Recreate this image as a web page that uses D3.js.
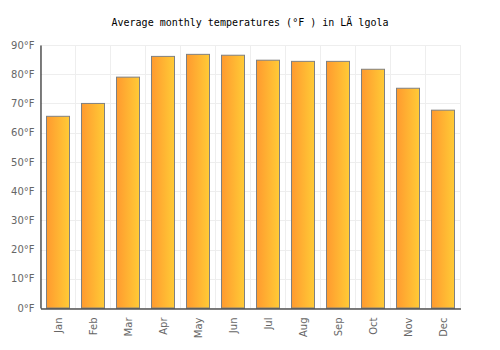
<!DOCTYPE html>
<html><head><meta charset="utf-8">
<script src="https://cdn.jsdelivr.net/npm/d3@7"></script>
<style>body{margin:0;background:#fff}</style>
</head><body>
<svg id="c" width="500" height="350"></svg>
<script>
const titleText = "Average monthly temperatures (°F ) in LÄ lgola";
const months = ["Jan","Feb","Mar","Apr","May","Jun","Jul","Aug","Sep","Oct","Nov","Dec"];
const temps = [65.6, 70.0, 79.0, 86.1, 86.8, 86.5, 84.8, 84.4, 84.4, 81.7, 75.2, 67.7];
const yTicks = [0,10,20,30,40,50,60,70,80,90];

const svg = d3.select("#c");
const m = {l:40.5, r:460.5, t:45, b:308};
const x = d3.scaleBand().domain(months).range([m.l, m.r]).paddingInner(0.34).paddingOuter(0.17);
const y = d3.scaleLinear().domain([0,90]).range([m.b, m.t]);

const defs = svg.append("defs");
const g = defs.append("linearGradient").attr("id","bg").attr("x1","0").attr("x2","1").attr("y1","0").attr("y2","0");
g.append("stop").attr("offset","0%").attr("stop-color","#ff9a2f");
g.append("stop").attr("offset","100%").attr("stop-color","#ffcb36");

svg.append("text").attr("x",250).attr("y",26).attr("text-anchor","middle")
  .style("font-family","DejaVu Sans Mono").style("font-size","10px").attr("fill","#000").text(titleText);

// grid
const bandStep = x.step();
const vlines = d3.range(months.length+1).map(i => m.l + i*(m.r-m.l)/months.length);
svg.append("g").selectAll("line").data(vlines).join("line")
  .attr("x1",d=>d).attr("x2",d=>d).attr("y1",m.t).attr("y2",m.b)
  .attr("stroke","#eeeeee").attr("stroke-width",1);
svg.append("g").selectAll("line").data(yTicks).join("line")
  .attr("x1",m.l).attr("x2",m.r).attr("y1",d=>Math.round(y(d))+0.5).attr("y2",d=>Math.round(y(d))+0.5)
  .attr("stroke","#eeeeee").attr("stroke-width",1);

// bars
svg.append("g").selectAll("rect").data(temps).join("rect")
  .attr("x",(d,i)=>Math.round(x(months[i]))+0.5)
  .attr("width",Math.round(x.bandwidth()))
  .attr("y",d=>y(d))
  .attr("height",d=>m.b-y(d))
  .attr("fill","url(#bg)").attr("stroke","#808080").attr("stroke-width",1);

// axes
const ya = svg.append("g").attr("transform",`translate(${m.l},0)`)
  .call(d3.axisLeft(y).tickValues(yTicks).tickFormat(d=>d+"°F").tickSize(0).tickPadding(6));
ya.select(".domain").attr("stroke","#000");
ya.selectAll("text").style("font-family","DejaVu Sans").style("font-size","10px").attr("fill","#666");

const xa = svg.append("g").attr("transform",`translate(0,${m.b+0.5})`)
  .call(d3.axisBottom(x).tickSize(0).tickPadding(0));
xa.select(".domain").attr("stroke","#000");
xa.selectAll("text").style("font-family","DejaVu Sans").style("font-size","10px").attr("fill","#666")
  .attr("text-anchor","end").attr("transform","rotate(-90)").attr("x",-9).attr("y",0).attr("dy","0.35em");
</script>
</body></html>
